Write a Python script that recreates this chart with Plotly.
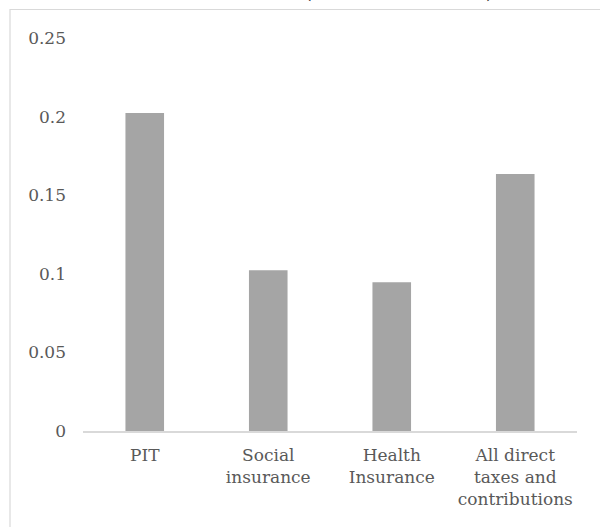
import plotly.graph_objects as go

categories = ["PIT", "Social<br>insurance", "Health<br>Insurance", "All direct<br>taxes and<br>contributions"]
values = [0.2023, 0.1022, 0.0946, 0.1635]
y_ticks = [0, 0.05, 0.1, 0.15, 0.2, 0.25]
y_tick_labels = ["0", "0.05", "0.1", "0.15", "0.2", "0.25"]

FONT = "DejaVu Serif"
TXT = "#595959"
FS = 17

fig = go.Figure(go.Bar(
    x=categories, y=values,
    marker=dict(color="#A5A5A5", line=dict(width=0)),
    hoverinfo="skip",
))

W, H = 600, 527
L, R, T, B = 83, 23, 38, 96
pw, ph = W - L - R, H - T - B

def px_x(p):
    return (p - L) / pw

def px_y(p):
    return (H - B - p) / ph

fig.update_layout(
    width=W, height=H,
    margin=dict(l=L, r=R, t=T, b=B, pad=0),
    paper_bgcolor="white", plot_bgcolor="white",
    bargap=0.6875,
    showlegend=False,
    font=dict(family=FONT, size=FS, color=TXT),
    xaxis=dict(
        showline=True, linecolor="#D9D9D9", linewidth=1.5,
        showgrid=False, ticks="", zeroline=False,
        tickfont=dict(family=FONT, size=FS, color=TXT),
        ticklabelstandoff=8,
        automargin=False,
        fixedrange=True,
    ),
    yaxis=dict(
        range=[0, 0.25], tickvals=y_ticks, ticktext=y_tick_labels,
        showgrid=False, showline=False, zeroline=False, ticks="",
        tickfont=dict(family=FONT, size=FS, color=TXT),
        ticklabelstandoff=16,
        automargin=False,
        fixedrange=True,
    ),
    shapes=[dict(
        type="rect", xref="paper", yref="paper",
        x0=px_x(10), x1=px_x(640), y0=px_y(560), y1=px_y(9.5),
        line=dict(color="#D9D9D9", width=1.2), fillcolor="rgba(0,0,0,0)",
        layer="below",
    )],
    annotations=[
        dict(text="(", xref="paper", yref="paper", x=px_x(308), y=px_y(5),
             xanchor="center", yanchor="bottom", showarrow=False,
             font=dict(family=FONT, size=20, color="black")),
        dict(text=")", xref="paper", yref="paper", x=px_x(490), y=px_y(5),
             xanchor="center", yanchor="bottom", showarrow=False,
             font=dict(family=FONT, size=20, color="black")),
    ],
)

fig.write_html("out.html", config={"displayModeBar": False},
               post_script="document.body.style.margin='0';document.body.style.overflow='hidden';")
